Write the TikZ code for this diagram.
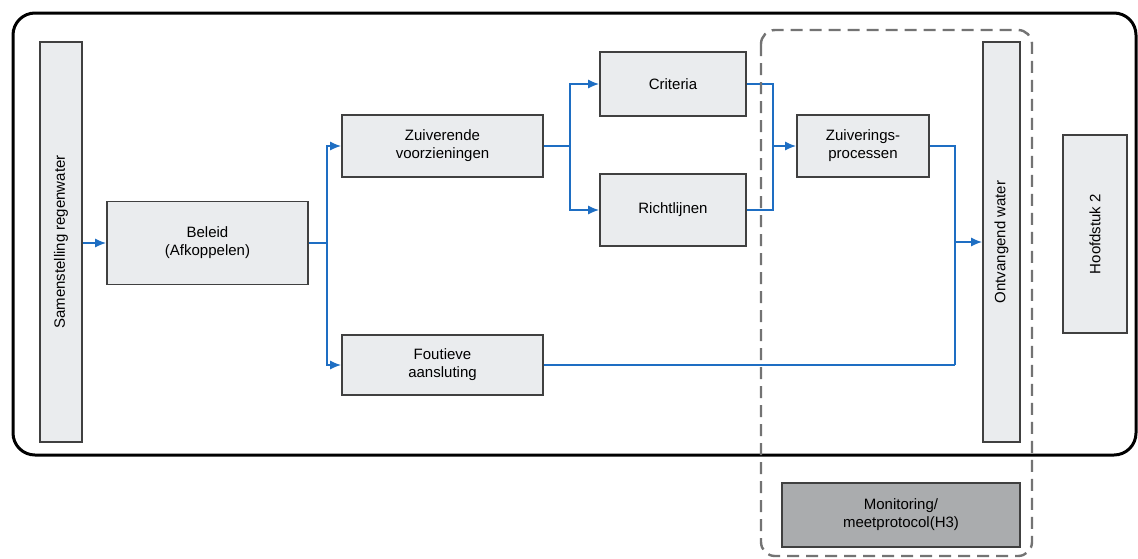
\documentclass[tikz,border=0pt]{standalone}
\usepackage{fontspec}
\setmainfont{Liberation Sans}
\usetikzlibrary{arrows.meta}
\definecolor{flowblue}{RGB}{30,110,195}
\definecolor{boxfill}{RGB}{234,236,238}
\definecolor{darkfill}{RGB}{170,172,174}
\tikzset{
  blok/.style={draw=black!75, line width=1.8pt, fill=boxfill, align=center,
    inner sep=0pt, font=\fontsize{15}{18}\selectfont},
  staand/.style={blok, rotate=90},
  flow/.style={draw=flowblue, line width=1.4pt, -{Latex[length=11pt,width=9pt]}},
  lijn/.style={draw=flowblue, line width=1.4pt},
}
\begin{document}
\begin{tikzpicture}[x=1pt, y=-1pt]
    \useasboundingbox (0,0) rectangle (1138,558);

    % Outer frame
    \draw[black, line width=3pt, rounded corners=22pt] (13,13) rectangle (1136,455);

    % Nodes
    \node[staand, minimum width=400pt, minimum height=42pt] (sam) at (61,242) {Samenstelling regenwater};
    \node[blok, minimum width=201pt, minimum height=83pt] (beleid) at (207.5,243) {Beleid\\(Afkoppelen)};
    \node[blok, minimum width=201pt, minimum height=62pt] (zuiv) at (442.5,146) {Zuiverende\\voorzieningen};
    \node[blok, minimum width=201pt, minimum height=60pt] (fout) at (442.5,365) {Foutieve\\aansluting};
    \node[blok, minimum width=146pt, minimum height=64pt] (crit) at (673,84) {Criteria};
    \node[blok, minimum width=146pt, minimum height=72pt] (richt) at (673,210) {Richtlijnen};
    \node[blok, minimum width=132pt, minimum height=62pt] (zproc) at (863,146) {Zuiverings-\\processen};
    \node[staand, minimum width=400pt, minimum height=37pt] (ontv) at (1001.5,242) {Ontvangend water};
    \node[staand, minimum width=198pt, minimum height=64pt] (hfd) at (1095,234) {Hoofdstuk 2};
    \node[blok, fill=darkfill, minimum width=238pt, minimum height=64pt] (mon) at (901,515) {Monitoring/\\meetprotocol(H3)};

    % Branch points
    \coordinate (b1) at (327,243);
    \coordinate (b2) at (570,146);
    \coordinate (b3) at (773,146);
    \coordinate (b4) at (955,365);

    % Connectors
    \draw[flow] (sam.south |- beleid) -- (beleid);
    \draw[lijn] (beleid.east) -- (b1);
    \draw[flow] (b1) |- (zuiv.west);
    \draw[flow] (b1) |- (fout.west);
    \draw[lijn] (zuiv.east) -- (b2);
    \draw[flow] (b2) |- (crit.west);
    \draw[flow] (b2) |- (richt.west);
    \draw[lijn] (crit.east) -| (b3);
    \draw[lijn] (richt.east) -| (b3);
    \draw[flow] (b3) -- (zproc.west);
    \draw[lijn] (zproc.east) -| (b4);
    \draw[lijn] (fout.east) -- (b4);
    \draw[flow] (b4 |- ontv) -- (ontv.north);

    % Dashed monitoring frame
    \draw[black!55, line width=2.4pt, dash pattern=on 12pt off 7pt, rounded corners=14pt]
      (761,30) rectangle (1032,556);
\end{tikzpicture}
\end{document}
